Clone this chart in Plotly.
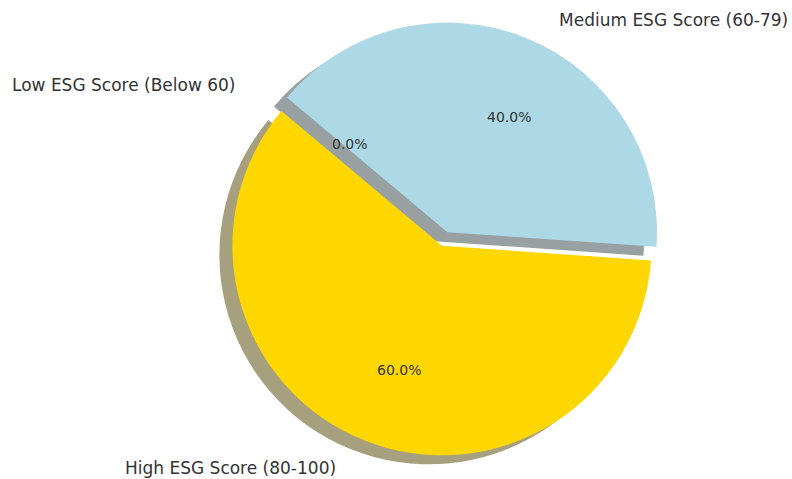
import plotly.graph_objects as go

labels = ["Low ESG Score (Below 60)", "Medium ESG Score (60-79)", "High ESG Score (80-100)"]
values = [0, 40, 60]
colors = ["#9e9e9e", "#ADD8E6", "#FFD700"]
shadow_colors = ["rgba(77,77,77,0.5)", "rgba(52,65,69,0.5)", "rgba(77,65,0,0.5)"]
pulls = [0.07, 0.07, 0.0]

# label / percent text anchor positions (paper coords)
label_pos = [(0.0126, 0.8225, "left"), (0.703, 0.958, "left"), (0.4268, 0.023, "right")]
pct_pos = [(0.442, 0.699), (0.643, 0.756), (0.504, 0.2276)]

W, H = 792, 479
dx, dy = 13 / W, 9 / H
cx = 0.558
main_dom = dict(x=[cx - 0.31, cx + 0.31], y=[dy, 0.955])
shadow_dom = dict(x=[main_dom["x"][0] - dx, main_dom["x"][1] - dx],
                  y=[main_dom["y"][0] - dy, main_dom["y"][1] - dy])

common = dict(labels=labels, values=values, sort=False, direction="clockwise",
              rotation=-50, pull=pulls, hoverinfo="skip", textinfo="none",
              showlegend=False)

fig = go.Figure()
fig.add_trace(go.Pie(**common, domain=shadow_dom,
                     marker=dict(colors=shadow_colors, line=dict(width=0))))
fig.add_trace(go.Pie(**common, domain=main_dom,
                     marker=dict(colors=colors, line=dict(width=0))))

total = sum(values)
font_lbl = dict(family="DejaVu Sans", size=17, color="#333333")
font_pct = dict(family="DejaVu Sans", size=14, color="#333333")
for lab, (x, y, anc) in zip(labels, label_pos):
    fig.add_annotation(x=x, y=y, xref="paper", yref="paper", text=lab, showarrow=False,
                       xanchor=anc, yanchor="middle", font=font_lbl)
for v, (x, y) in zip(values, pct_pos):
    fig.add_annotation(x=x, y=y, xref="paper", yref="paper", text=f"{v / total * 100:.1f}%",
                       showarrow=False, xanchor="center", yanchor="middle", font=font_pct)

fig.update_layout(width=W, height=H, margin=dict(l=0, r=0, t=0, b=0),
                  paper_bgcolor="white", plot_bgcolor="white", showlegend=False)
fig.write_html("out.html")
